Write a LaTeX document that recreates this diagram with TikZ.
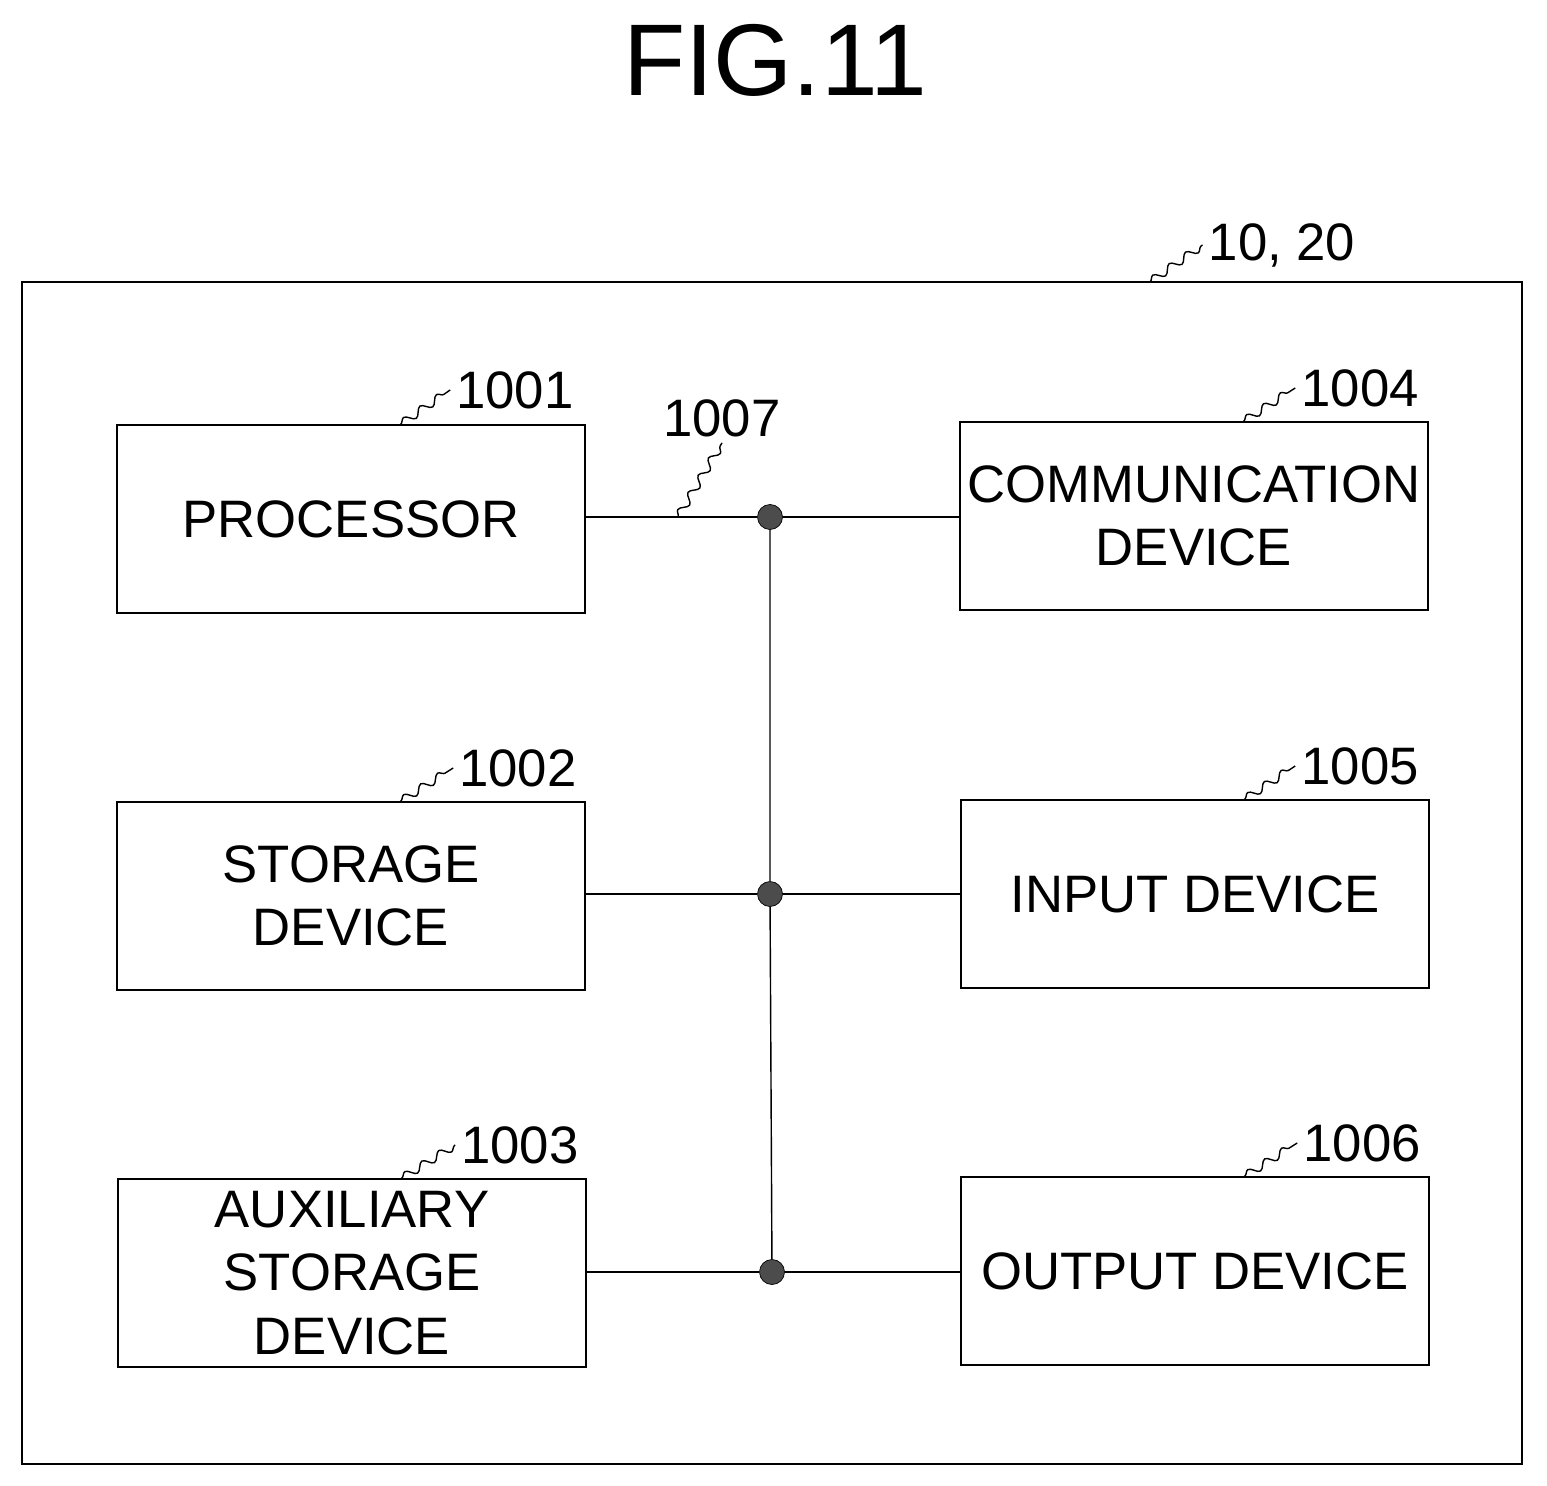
\documentclass[tikz,border=0pt]{standalone}
\usepackage{fontspec}
\setmainfont{Liberation Sans}
\usetikzlibrary{decorations.pathmorphing}
\tikzset{
  blk/.style={draw, thick, minimum width=9.36cm, minimum height=3.76cm, align=center, font=\fontsize{30}{36}\selectfont},
  ref/.style={font=\fontsize{30}{36}\selectfont},
  lead/.style={thick, decorate, decoration={snake, amplitude=0.8mm, segment length=4mm}},
  dot/.style={circle, fill=black!70, draw, inner sep=0pt, minimum size=0.5cm},
}
\begin{document}
\begin{tikzpicture}[x=0.02cm,y=-0.02cm]
  \useasboundingbox (0,0) rectangle (1547,1486);
  \node[font=\fontsize{58}{66}\selectfont] (title) at (775,60) {FIG.11};

  % outer frame
  \draw[thick] (22,282) rectangle (1522,1464);
  \node[ref] (r10) at (1282,245) {10, 20};
  \coordinate (c10) at (1150,282);
  \draw[lead] (c10) -- (r10.west);

  % left column
  \node[blk] (proc) at (351,519) {PROCESSOR};
  \node[blk] (stor) at (351,896) {STORAGE\\DEVICE};
  \node[blk] (aux) at (352,1273) {AUXILIARY\\STORAGE\\DEVICE};

  % right column
  \node[blk] (comm) at (1194,516) {COMMUNICATION\\DEVICE};
  \node[blk] (inp) at (1195,894) {INPUT DEVICE};
  \node[blk] (outp) at (1195,1271) {OUTPUT DEVICE};

  % reference numerals
  \node[ref] (r1001) at (515,390) {1001};
  \node[ref] (r1002) at (518,768) {1002};
  \node[ref] (r1003) at (520,1145) {1003};
  \node[ref] (r1004) at (1360,388) {1004};
  \node[ref] (r1005) at (1360,766) {1005};
  \node[ref] (r1006) at (1362,1143) {1006};
  \node[ref] (r1007) at (722,418) {1007};
  \draw[lead] (proc.north east) ++(-185,0) -- (r1001.west);
  \draw[lead] (stor.north east) ++(-185,0) -- (r1002.west);
  \draw[lead] (aux.north east) ++(-185,0) -- (r1003.west);
  \draw[lead] (comm.north east) ++(-185,0) -- (r1004.west);
  \draw[lead] (inp.north east) ++(-185,0) -- (r1005.west);
  \draw[lead] (outp.north east) ++(-185,0) -- (r1006.west);

  % bus
  \node[dot] (j1) at (770,517) {};
  \node[dot] (j2) at (770,894) {};
  \node[dot] (j3) at (772,1272) {};
  \coordinate (b1007) at (678,517);
  \draw[thick] (proc.east |- j1) -- (j1) -- (comm.west |- j1);
  \draw[thick] (stor.east |- j2) -- (j2) -- (inp.west |- j2);
  \draw[thick] (aux.east |- j3) -- (j3) -- (outp.west |- j3);
  \draw[thick] (j1) -- (j2) -- (j3);
  \draw[lead] (b1007) -- (r1007.south);
\end{tikzpicture}
\end{document}
